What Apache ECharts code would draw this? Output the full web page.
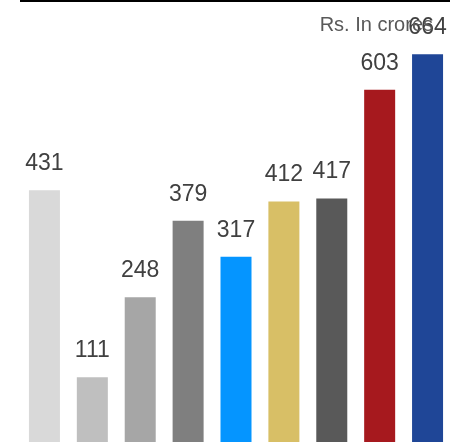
<!DOCTYPE html>
<html>
<head>
<meta charset="utf-8">
<script src="https://cdn.jsdelivr.net/npm/echarts@6/dist/echarts.min.js"></script>
<style>
  html, body { margin: 0; padding: 0; background: #fff; }
  #chart { width: 454px; height: 442px; }
</style>
</head>
<body>
<div id="chart"></div>
<script>
// bar data
const categories = ["A", "B", "C", "D", "E", "F", "G", "H", "I"];
const values = [431, 111, 248, 379, 317, 412, 417, 603, 664];
const barColors = ["#d9d9d9", "#bfbfbf", "#a6a6a6", "#7f7f7f", "#0595ff", "#d8bf66", "#595959", "#a6191e", "#1f4697"];

const myChart = echarts.init(document.getElementById("chart"));
myChart.setOption({
  animation: false,
  textStyle: { fontFamily: "Liberation Sans, Arial, sans-serif" },
  title: {
    text: "Rs. In crores",
    right: 16,
    top: 10,
    textStyle: { fontSize: 20, fontWeight: "normal", color: "#595959" }
  },
  graphic: [
    {
      type: "line",
      shape: { x1: 20, y1: 1, x2: 450, y2: 1 },
      style: { stroke: "#000", lineWidth: 2 }
    }
  ],
  // baseline sits just below the visible area
  grid: { left: 20.5, top: 4, width: 431, height: 441, containLabel: false },
  xAxis: {
    type: "category",
    data: categories,
    show: false
  },
  yAxis: {
    type: "value",
    min: 0,
    max: 750,
    show: false
  },
  series: [
    {
      type: "bar",
      barWidth: 31,
      data: values.map((v, i) => ({ value: v, itemStyle: { color: barColors[i] } })),
      label: {
        show: true,
        position: "top",
        distance: 15,
        fontSize: 23,
        color: "#404040"
      }
    }
  ]
});
</script>
</body>
</html>
